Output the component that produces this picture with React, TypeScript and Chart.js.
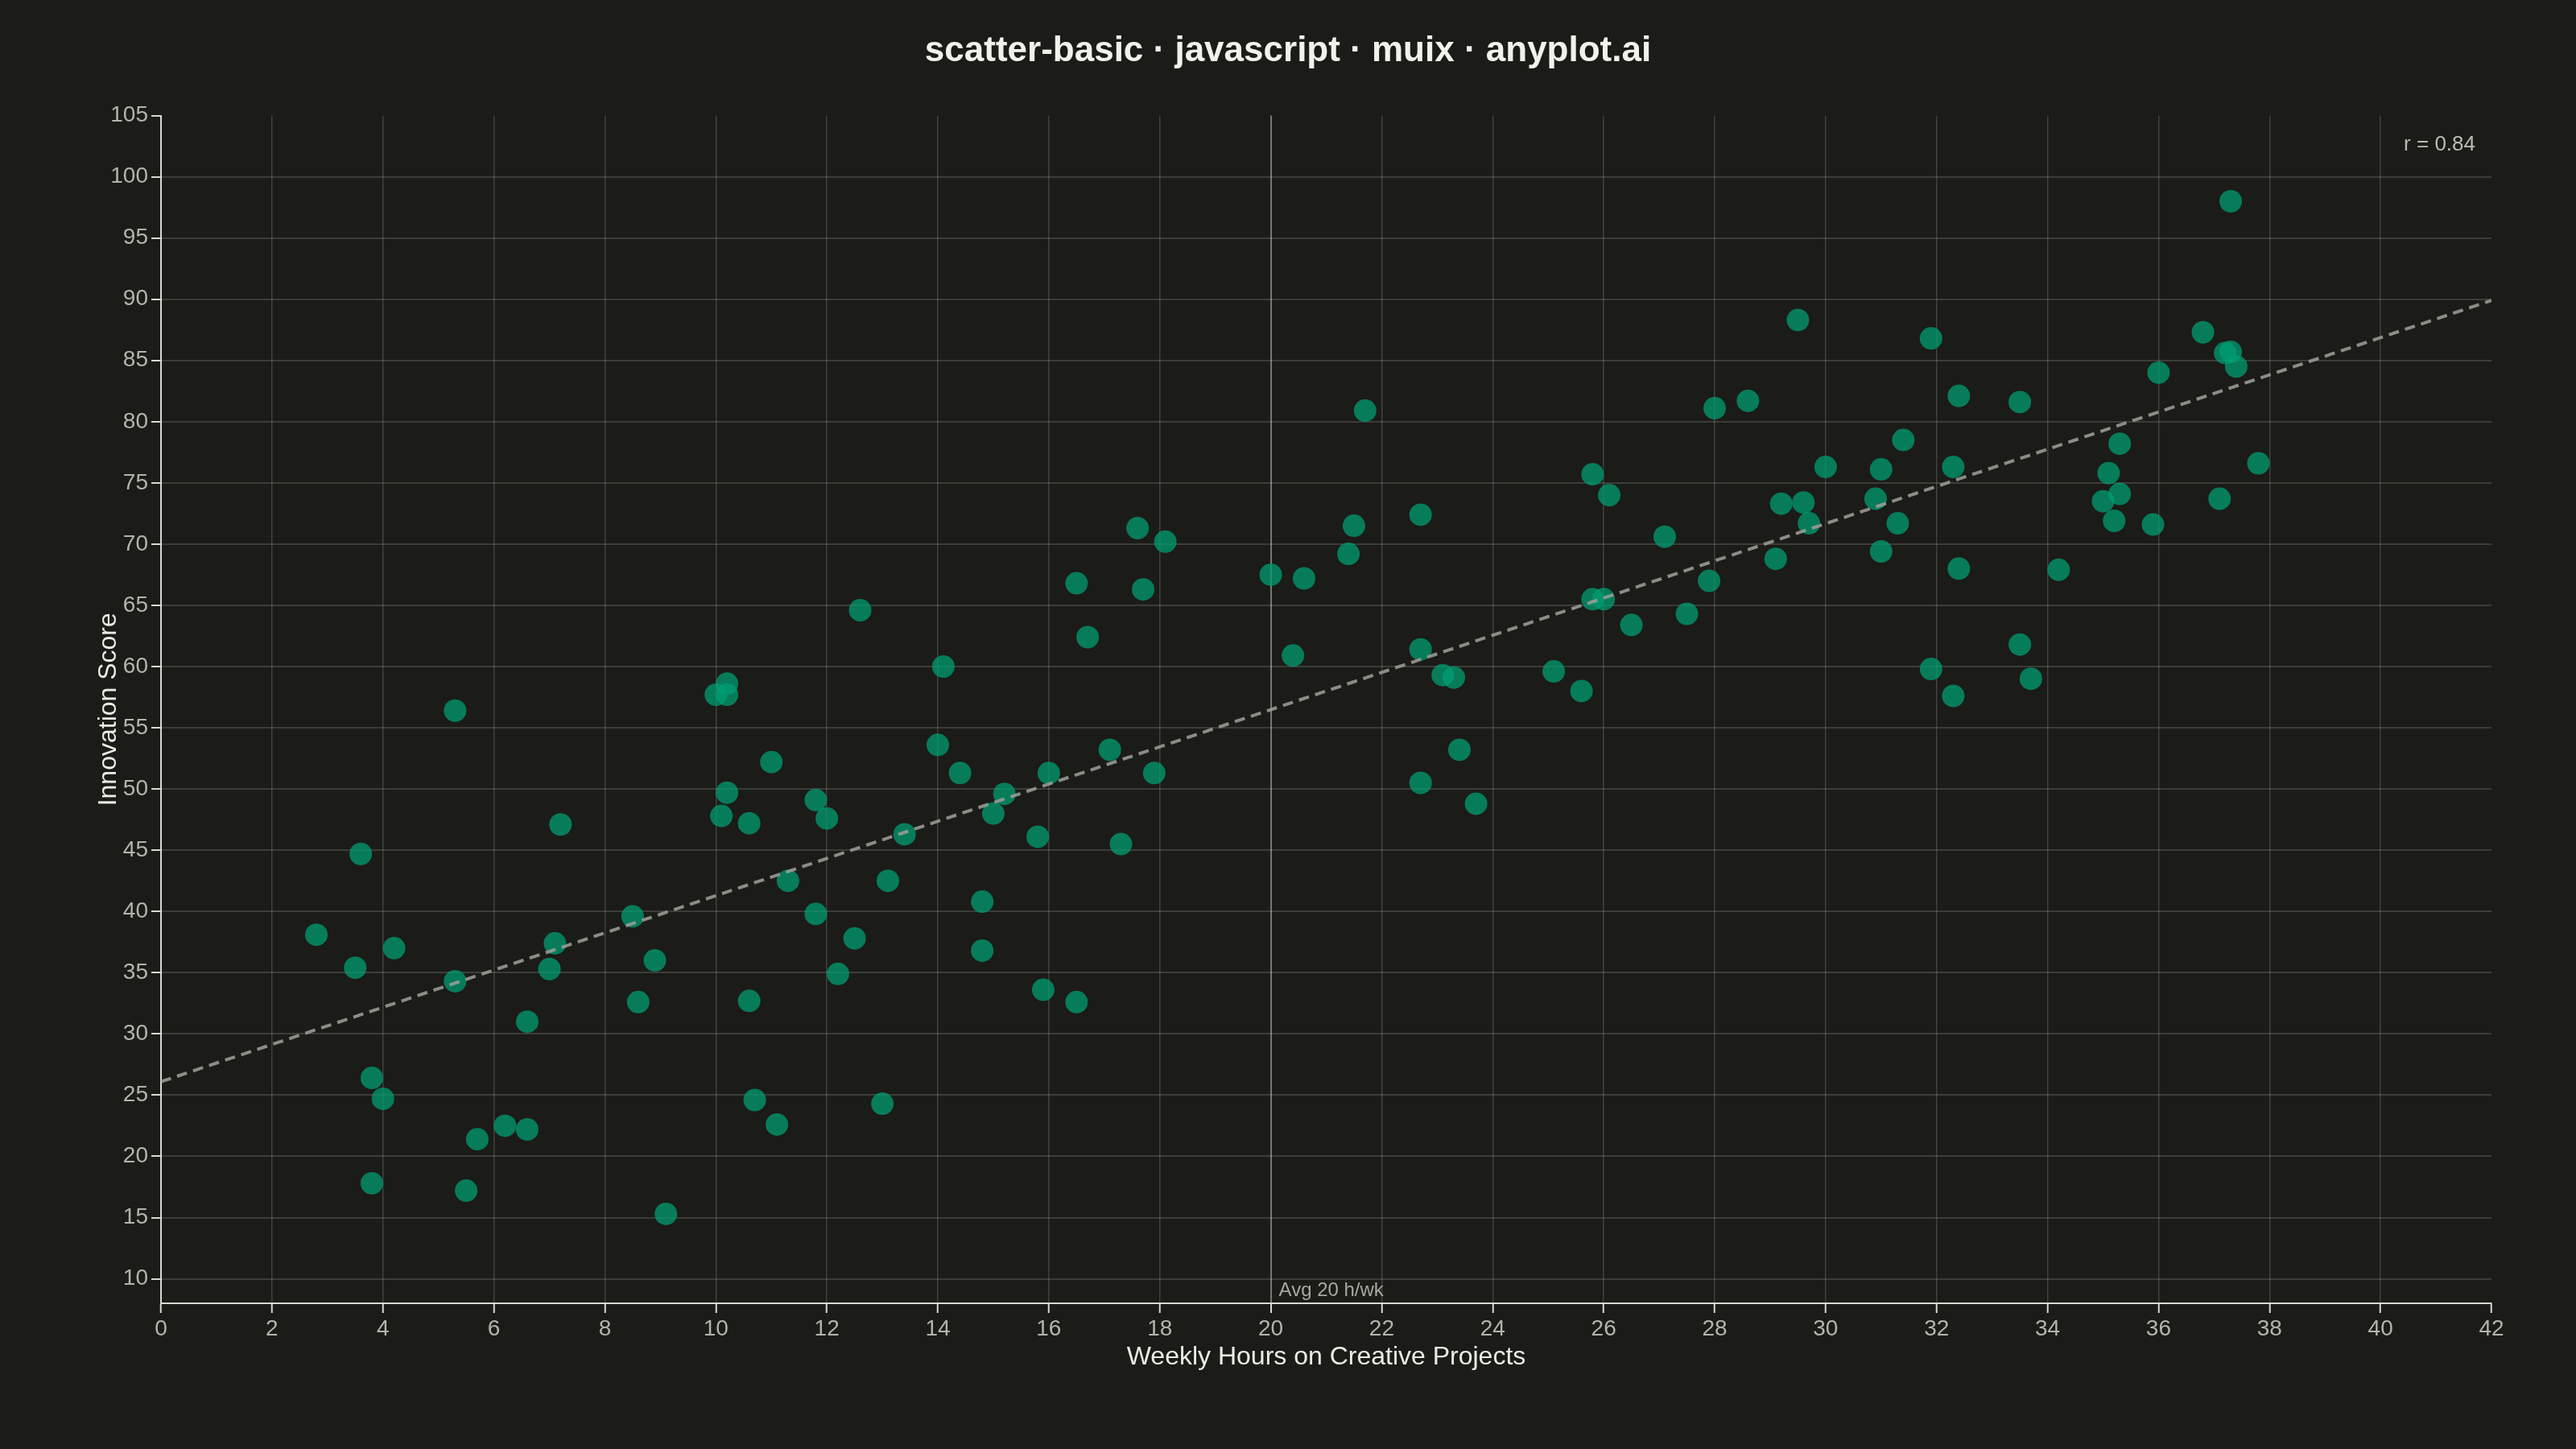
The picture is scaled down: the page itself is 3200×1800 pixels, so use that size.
import React, { useEffect, useRef } from 'react';
import { Chart, registerables } from 'chart.js';

Chart.register(...registerables);

// Horas semanales y puntuación de innovación (120 personas)
const hours = [
  2.8, 3.5, 3.6, 3.8, 4.0, 3.8, 4.2, 5.3, 5.3, 5.7, 5.5,
  6.2, 6.6, 6.6, 7.0, 7.1, 7.2, 8.5, 8.6, 8.9, 9.1,
  10.0, 10.2, 10.2, 10.1, 10.2, 10.6, 10.6, 10.7, 11.0, 11.1,
  11.3, 11.8, 12.0, 11.8, 12.2, 12.5, 12.6, 13.0, 13.1, 13.4,
  14.0, 14.1, 14.4, 14.8, 14.8, 15.0, 15.2, 15.8, 15.9, 16.0,
  16.5, 16.5, 16.7, 17.1, 17.3, 17.6, 17.7, 17.9, 18.1,
  20.0, 20.4, 20.6, 21.4, 21.5, 21.7, 22.7, 22.7, 22.7, 23.1,
  23.3, 23.4, 23.7, 25.1, 25.6, 25.8, 25.8, 26.0, 26.1, 26.5,
  27.1, 27.5, 27.9, 28.0, 28.6, 29.1, 29.2, 29.5, 29.6, 29.7,
  30.0, 30.9, 31.0, 31.0, 31.3, 31.4, 31.9, 31.9, 32.3, 32.3,
  32.4, 32.4, 33.5, 33.5, 33.7, 34.2, 35.0, 35.1, 35.2, 35.3,
  35.3, 35.9, 36.0, 36.8, 37.1, 37.2, 37.3, 37.3, 37.4, 37.8,
];

const scores = [
  38.1, 35.4, 44.7, 26.4, 24.7, 17.8, 37.0, 56.4, 34.3, 21.4, 17.2,
  22.5, 22.2, 31.0, 35.3, 37.4, 47.1, 39.6, 32.6, 36.0, 15.3,
  57.7, 58.6, 57.7, 47.8, 49.7, 47.2, 32.7, 24.6, 52.2, 22.6,
  42.5, 49.1, 47.6, 39.8, 34.9, 37.8, 64.6, 24.3, 42.5, 46.3,
  53.6, 60.0, 51.3, 40.8, 36.8, 48.0, 49.6, 46.1, 33.6, 51.3,
  66.8, 32.6, 62.4, 53.2, 45.5, 71.3, 66.3, 51.3, 70.2,
  67.5, 60.9, 67.2, 69.2, 71.5, 80.9, 72.4, 61.4, 50.5, 59.3,
  59.1, 53.2, 48.8, 59.6, 58.0, 75.7, 65.5, 65.5, 74.0, 63.4,
  70.6, 64.3, 67.0, 81.1, 81.7, 68.8, 73.3, 88.3, 73.4, 71.7,
  76.3, 73.7, 76.1, 69.4, 71.7, 78.5, 86.8, 59.8, 76.3, 57.6,
  82.1, 68.0, 81.6, 61.8, 59.0, 67.9, 73.5, 75.8, 71.9, 74.1,
  78.2, 71.6, 84.0, 87.3, 73.7, 85.6, 85.7, 98.0, 84.5, 76.6,
];

// Línea de tendencia (extremos)
const trendHours = [0, 42];
const trendScores = [26.1, 89.9];

const avgHours = 20;
const avgLabel = 'Avg 20 h/wk';
const corrLabel = 'r = 0.84';
const chartTitle = 'scatter-basic · javascript · muix · anyplot.ai';

const BG = '#1b1b17';
const FONT = '"Liberation Sans", Arial, Helvetica, sans-serif';
const AXIS = '#d9d9d2';

const backgroundPlugin = {
  id: 'bg',
  beforeDraw(chart: any) {
    const { ctx, width, height } = chart;
    ctx.save();
    ctx.fillStyle = BG;
    ctx.fillRect(0, 0, width, height);
    ctx.restore();
  },
};

// Título centrado en todo el lienzo + anotaciones
const notesPlugin = {
  id: 'notes',
  afterDatasetsDraw(chart: any) {
    const { ctx, chartArea, scales, width } = chart;
    ctx.save();
    ctx.fillStyle = '#f2f1ea';
    ctx.font = `bold 44px ${FONT}`;
    ctx.textAlign = 'center';
    ctx.textBaseline = 'middle';
    ctx.fillText(chartTitle, width / 2, 64);

    ctx.fillStyle = '#a8a8a0';
    ctx.font = `24px ${FONT}`;
    ctx.textAlign = 'left';
    ctx.textBaseline = 'bottom';
    ctx.fillText(avgLabel, scales.x.getPixelForValue(avgHours) + 10, chartArea.bottom - 4);

    ctx.fillStyle = '#bcbcb4';
    ctx.font = `26px ${FONT}`;
    ctx.textAlign = 'right';
    ctx.textBaseline = 'middle';
    ctx.fillText(corrLabel, chartArea.right - 20, chartArea.top + 36);
    ctx.restore();
  },
};

const App: React.FC = () => {
  const canvasRef = useRef<HTMLCanvasElement>(null);
  const chartRef = useRef<Chart | null>(null);

  useEffect(() => {
    document.body.style.margin = '0';
    document.body.style.background = BG;
    if (!canvasRef.current) return;
    const ctx = canvasRef.current.getContext('2d');
    if (!ctx) return;

    chartRef.current = new Chart(ctx, {
      type: 'scatter',
      data: {
        datasets: [
          {
            label: 'Trend',
            data: trendHours.map((h, i) => ({ x: h, y: trendScores[i] })),
            showLine: true,
            borderColor: 'rgba(160, 160, 154, 0.85)',
            borderWidth: 4,
            borderDash: [13, 8],
            pointRadius: 0,
            fill: false,
          },
          {
            label: 'Participants',
            data: hours.map((h, i) => ({ x: h, y: scores[i] })),
            backgroundColor: 'rgba(0, 158, 115, 0.75)',
            borderWidth: 0,
            pointRadius: 14,
            pointHoverRadius: 14,
          },
        ],
      },
      options: {
        responsive: false,
        devicePixelRatio: 1,
        animation: false,
        layout: { padding: { left: 0, right: 105, top: 143.5, bottom: 0 } },
        plugins: {
          legend: { display: false },
          tooltip: { enabled: false },
          title: { display: false },
        },
        scales: {
          x: {
            type: 'linear',
            min: 0,
            max: 42,
            afterFit: (scale: any) => { scale.height = 181; },
            ticks: {
              stepSize: 2,
              color: '#b4b4ac',
              padding: 3,
              font: { family: FONT, size: 28 },
            },
            grid: {
              color: (c: any) => {
                const v = c.tick?.value;
                if (v === 42) return 'rgba(0,0,0,0)';
                if (v === avgHours) return 'rgba(255, 255, 255, 0.4)';
                return 'rgba(255, 255, 255, 0.17)';
              },
              lineWidth: (c: any) => (c.tick?.value === avgHours ? 2 : 1.5),
              tickColor: AXIS,
              tickLength: 12,
              tickWidth: 2,
            },
            border: { display: true, color: AXIS, width: 2 },
            title: {
              display: true,
              text: 'Weekly Hours on Creative Projects',
              color: '#ecebe4',
              font: { family: FONT, size: 32 },
              padding: { top: 0, bottom: 95 },
            },
          },
          y: {
            type: 'linear',
            min: 8,
            max: 105,
            afterFit: (scale: any) => { scale.width = 200; },
            ticks: {
              stepSize: 5,
              includeBounds: false,
              color: '#b4b4ac',
              padding: 4,
              font: { family: FONT, size: 28 },
            },
            grid: {
              color: (c: any) => (c.tick?.value === 105 ? 'rgba(0,0,0,0)' : 'rgba(255, 255, 255, 0.15)'),
              lineWidth: 2,
              tickColor: AXIS,
              tickLength: 12,
              tickWidth: 2,
            },
            border: { display: true, color: AXIS, width: 2 },
            title: {
              display: true,
              text: 'Innovation Score',
              color: '#ecebe4',
              font: { family: FONT, size: 32 },
              padding: { top: 116, bottom: 0 },
            },
          },
        },
      },
      plugins: [backgroundPlugin, notesPlugin],
    });

    return () => {
      if (chartRef.current) {
        chartRef.current.destroy();
        chartRef.current = null;
      }
    };
  }, []);

  return (
    <div style={{ width: 3200, height: 1800, background: BG }}>
      <canvas ref={canvasRef} width={3200} height={1800} style={{ display: 'block', width: 3200, height: 1800 }}></canvas>
    </div>
  );
};

export default App;
